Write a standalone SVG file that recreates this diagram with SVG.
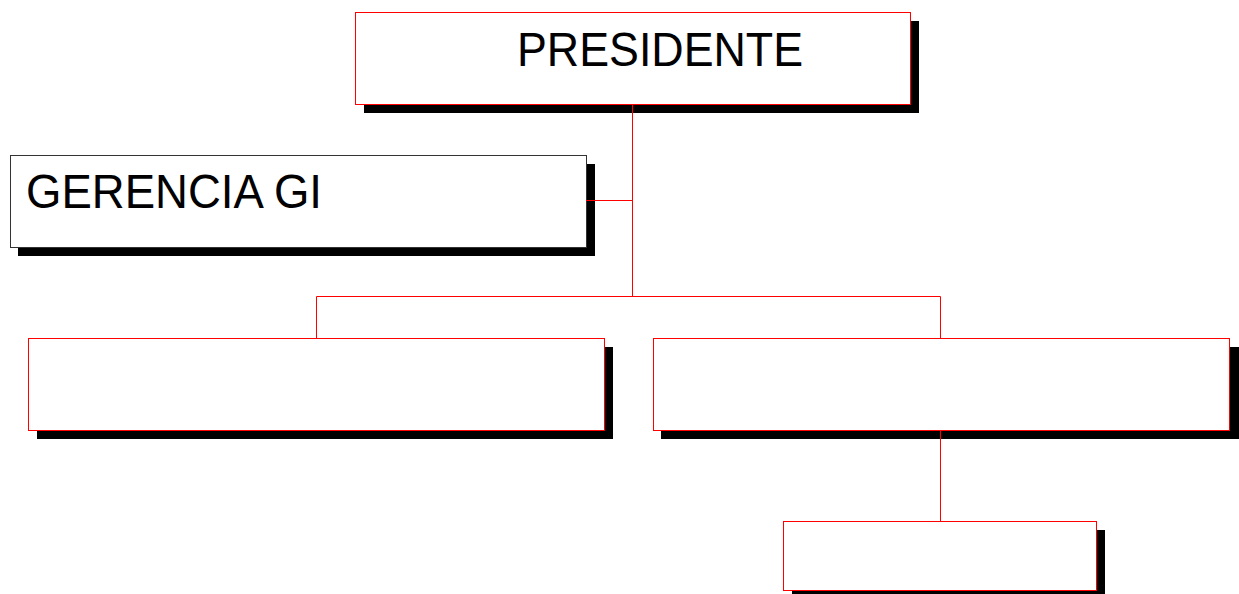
<svg xmlns="http://www.w3.org/2000/svg" width="1239" height="594" viewBox="0 0 1239 594">
<style>
.sh{fill:#000}
.bx{fill:#fff;stroke:#ff0000;stroke-width:1}
.bk{fill:#fff;stroke:#333;stroke-width:1}
.ln{stroke:#ff0000;stroke-width:1;fill:none}
.t{font-family:"Liberation Sans",Arial,sans-serif;font-size:48px;fill:#000}
</style>
<rect width="1239" height="594" fill="#fff"/>
<g id="presidente">
<rect class="sh" x="364" y="21" width="555" height="92"/>
<rect class="bx" x="355.5" y="12.5" width="555" height="92"/>
<text class="t" x="517" y="66" textLength="286" lengthAdjust="spacingAndGlyphs">PRESIDENTE</text>
</g>
<g id="gerencia">
<rect class="sh" x="18" y="164" width="577" height="92"/>
<rect class="bk" x="10.5" y="155.5" width="576" height="92"/>
<text class="t" x="26" y="208" textLength="296" lengthAdjust="spacingAndGlyphs">GERENCIA GI</text>
</g>
<g id="left">
<rect class="sh" x="37" y="347" width="576" height="92"/>
<rect class="bx" x="28.5" y="338.5" width="576" height="92"/>
</g>
<g id="right">
<rect class="sh" x="661" y="347" width="578" height="92"/>
<rect class="bx" x="653.5" y="338.5" width="576" height="92"/>
</g>
<g id="bottom">
<rect class="sh" x="792" y="530" width="313" height="64"/>
<rect class="bx" x="783.5" y="521.5" width="313" height="69"/>
</g>
<g id="connectors">
<path class="ln" d="M632.5 104V296.5M586 200.5H632.5M316.5 296.5H940.5M316.5 296.5V338M940.5 296.5V338M940.5 430V521"/>
</g>
</svg>
